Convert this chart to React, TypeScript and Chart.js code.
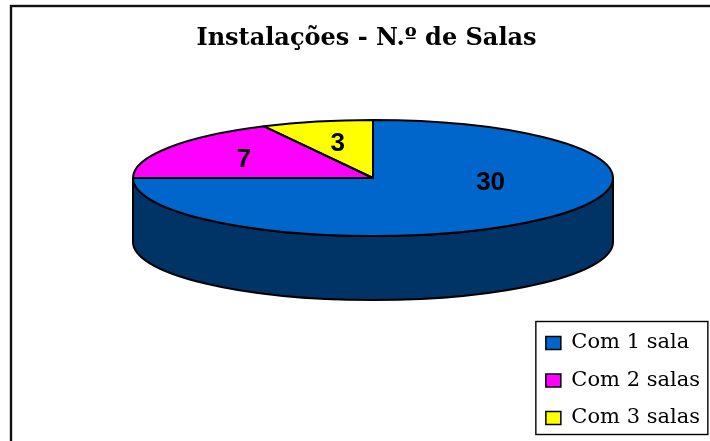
import React, { useEffect, useRef } from "react";
import { Chart, registerables } from "chart.js";

Chart.register(...registerables);

const categories = ["Com 1 sala", "Com 2 salas", "Com 3 salas"];
const values = [30, 7, 3];
const topColors = ["#0066CC", "#FF00FF", "#FFFF00"];
const sideColors = ["#003366", "#800080", "#808000"];
const titleText = "Instalações - N.º de Salas";

// 3D projection of the pie
const CX = 373;
const CY = 178;
const RX = 240;
const RY = 58;
const DEPTH = 64;

export default function App() {
  const ref = useRef<HTMLCanvasElement>(null);

  useEffect(() => {
    document.body.style.margin = "0";
    const canvas = ref.current;
    if (!canvas) return;

    const ept = (t: number, dy = 0) => [CX + RX * Math.cos(t), CY + dy + RY * Math.sin(t)];

    const pie3d = {
      id: "pie3d",
      beforeDatasetsDraw(chart: any) {
        const ctx = chart.ctx as CanvasRenderingContext2D;
        const arcs = chart.getDatasetMeta(0).data as any[];
        // side walls (front half only)
        ctx.save();
        ctx.lineWidth = 2;
        ctx.strokeStyle = "#000";
        ctx.lineJoin = "round";
        arcs.forEach((arc, i) => {
          const s = arc.startAngle;
          const e = arc.endAngle;
          for (const k of [-2, 0, 2]) {
            const lo = Math.max(s, k * Math.PI);
            const hi = Math.min(e, (k + 1) * Math.PI);
            if (hi <= lo) continue;
            const [x0, y0] = ept(lo);
            const [x1, y1] = ept(hi, DEPTH);
            ctx.beginPath();
            ctx.moveTo(x0, y0);
            ctx.ellipse(CX, CY, RX, RY, 0, lo, hi);
            ctx.lineTo(x1, y1);
            ctx.ellipse(CX, CY + DEPTH, RX, RY, 0, hi, lo, true);
            ctx.closePath();
            ctx.fillStyle = sideColors[i];
            ctx.fill();
            ctx.stroke();
          }
        });
        ctx.restore();
        // squash the library's own pie onto the top face
        const a0 = arcs[0];
        const r = a0.outerRadius;
        ctx.save();
        ctx.translate(CX, CY);
        ctx.scale(RX / r, RY / r);
        ctx.translate(-a0.x, -a0.y);
      },
      afterDatasetsDraw(chart: any) {
        const ctx = chart.ctx as CanvasRenderingContext2D;
        ctx.restore();
        const arcs = chart.getDatasetMeta(0).data as any[];
        ctx.save();
        ctx.lineWidth = 2;
        ctx.strokeStyle = "#000";
        ctx.lineJoin = "round";
        arcs.forEach((arc) => {
          const s = arc.startAngle;
          const e = arc.endAngle;
          const [x0, y0] = ept(s);
          ctx.beginPath();
          ctx.moveTo(CX, CY);
          ctx.lineTo(x0, y0);
          ctx.ellipse(CX, CY, RX, RY, 0, s, e);
          ctx.closePath();
          ctx.stroke();
        });
        // value labels
        ctx.fillStyle = "#000";
        ctx.font = "bold 26px 'Liberation Sans', Arial, sans-serif";
        ctx.textAlign = "center";
        ctx.textBaseline = "middle";
        arcs.forEach((arc, i) => {
          const mid = (arc.startAngle + arc.endAngle) / 2;
          const f = 0.63;
          const sn = Math.sin(mid);
          const x = CX + f * RX * Math.cos(mid) * (sn > 0 ? 1.1 : 1);
          const y = CY + f * RY * sn * (sn > 0 ? 0.15 : 1);
          ctx.fillText(String(values[i]), x, y + 1);
        });
        ctx.restore();
      },
      afterDraw(chart: any) {
        const ctx = chart.ctx as CanvasRenderingContext2D;
        ctx.save();
        ctx.strokeStyle = "#111";
        ctx.lineWidth = 2.4;
        ctx.strokeRect(11, 6, 760, 480);
        const hb = chart.legend?.legendHitBoxes as any[];
        if (hb && hb.length) {
          const l = Math.min(...hb.map((h) => h.left));
          const t = Math.min(...hb.map((h) => h.top));
          const b = Math.max(...hb.map((h) => h.top + h.height));
          ctx.lineWidth = 1.4;
          ctx.strokeStyle = "#000";
          ctx.strokeRect(l - 10, t - 11, 172, b - t + 17);
        }
        ctx.restore();
      },
    };

    const chart = new Chart(canvas, {
      type: "pie",
      data: {
        labels: categories,
        datasets: [
          {
            data: values,
            backgroundColor: topColors,
            borderWidth: 0,
            hoverOffset: 0,
            clip: false as any,
          },
        ],
      },
      options: {
        responsive: false,
        animation: false,
        events: [],
        layout: { padding: { left: 23, right: 0, top: 0, bottom: -4 } },
        plugins: {
          tooltip: { enabled: false },
          title: {
            display: true,
            text: titleText,
            color: "#000",
            font: { family: "'DejaVu Serif', serif", size: 24, weight: "bold" },
            padding: { top: 24, bottom: 10 },
          },
          legend: {
            display: true,
            position: "right",
            align: "end",
            labels: {
              color: "#000",
              font: { family: "'DejaVu Serif', serif", size: 21 },
              boxWidth: 15,
              boxHeight: 13,
              padding: 16.5,
              generateLabels: () =>
                categories.map((c, i) => ({
                  text: c,
                  fillStyle: topColors[i],
                  strokeStyle: "#000",
                  lineWidth: 1.5,
                  hidden: false,
                  index: i,
                  fontColor: "#000",
                })),
            },
          },
        },
      },
      plugins: [pie3d],
    });
    return () => chart.destroy();
  }, []);

  return (
    <div style={{ width: 710, height: 441 }}>
      <canvas ref={ref} width={710} height={441} style={{ display: "block" }} />
    </div>
  );
}
